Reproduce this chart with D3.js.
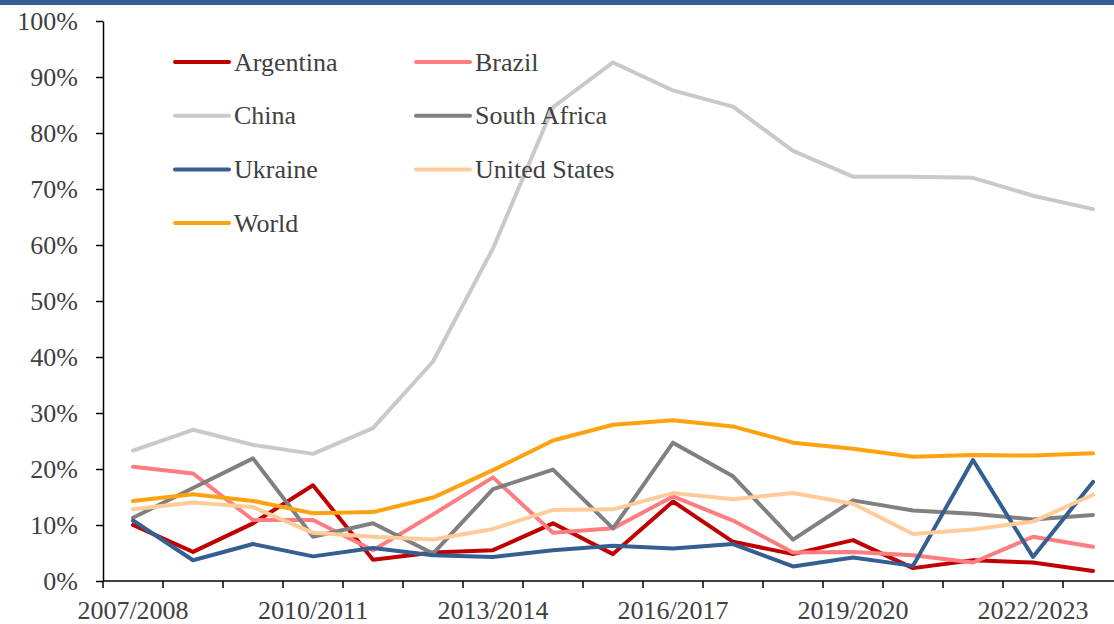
<!DOCTYPE html>
<html>
<head>
<meta charset="utf-8">
<script src="https://cdn.jsdelivr.net/npm/d3@7"></script>
<style>
  body { margin: 0; background: #fff; }
  svg { display: block; }
  text { font-family: "Liberation Serif", "Times New Roman", serif; fill: #404040; }
</style>
</head>
<body>
<svg id="chart" width="1114" height="624"></svg>
<script>
// marketing years on the x axis
var years = ["2007/2008", "2008/2009", "2009/2010", "2010/2011", "2011/2012", "2012/2013",
             "2013/2014", "2014/2015", "2015/2016", "2016/2017", "2017/2018", "2018/2019",
             "2019/2020", "2020/2021", "2021/2022", "2022/2023", "2023/2024"];

// shares in percent
var argentina = [10.0, 5.2, 10.3, 17.1, 3.8, 5.1, 5.5, 10.3, 4.8, 14.2, 7.0, 4.8, 7.3, 2.3, 3.7, 3.3, 1.8];
var brazil = [20.4, 19.2, 10.9, 10.9, 5.5, 11.9, 18.5, 8.6, 9.4, 15.1, 10.8, 5.1, 5.2, 4.6, 3.3, 7.9, 6.1];
var china = [23.3, 27.0, 24.3, 22.7, 27.3, 39.2, 59.4, 84.6, 92.6, 87.6, 84.7, 76.8, 72.2, 72.2, 72.0, 68.8, 66.4];
var southAfrica = [11.3, 16.6, 21.9, 7.9, 10.3, 4.9, 16.4, 19.9, 9.4, 24.7, 18.7, 7.4, 14.4, 12.6, 12.0, 11.0, 11.8];
var ukraine = [10.8, 3.7, 6.6, 4.4, 5.9, 4.6, 4.3, 5.5, 6.3, 5.8, 6.6, 2.6, 4.2, 2.7, 21.6, 4.3, 17.7];
var unitedStates = [12.8, 14.0, 13.2, 8.6, 7.9, 7.4, 9.3, 12.7, 12.8, 15.7, 14.6, 15.7, 13.8, 8.4, 9.2, 10.6, 15.4];
var world = [14.3, 15.5, 14.3, 12.1, 12.3, 14.9, 19.8, 25.1, 27.9, 28.7, 27.6, 24.7, 23.6, 22.2, 22.5, 22.4, 22.8];

var names = ["Argentina", "Brazil", "China", "South Africa", "Ukraine", "United States", "World"];
var colors = ["#c00000", "#ff7c80", "#c9c9c9", "#808080", "#335f91", "#ffcc99", "#ffa20f"];
var yTicks = [0, 10, 20, 30, 40, 50, 60, 70, 80, 90, 100];
var xLabels = ["2007/2008", "2010/2011", "2013/2014", "2016/2017", "2019/2020", "2022/2023"];

var series = [argentina, brazil, china, southAfrica, ukraine, unitedStates, world];

var svg = d3.select("#chart");

// blue strip along the top edge
svg.append("rect").attr("x", 0).attr("y", 0).attr("width", 1114).attr("height", 5).attr("fill", "#365f91");

var x = d3.scaleBand().domain(years).range([103, 1123]);
var y = d3.scaleLinear().domain([0, 100]).range([581, 21]);

// y axis
var yAxis = svg.append("g")
      .attr("transform", "translate(103,0)")
      .call(d3.axisLeft(y).tickValues(yTicks).tickSize(7).tickSizeOuter(0).tickPadding(18)
            .tickFormat(function(d) { return d + "%"; }));
yAxis.select(".domain").attr("stroke", "#000").attr("stroke-width", 1.5);
yAxis.selectAll(".tick line").attr("stroke", "#000").attr("stroke-width", 1.5);
yAxis.selectAll("text").attr("font-size", 26).attr("fill", "#404040")
      .style("font-family", "Liberation Serif");

// x axis: labels under every third year, tick marks at band edges
var xAxis = svg.append("g")
      .attr("transform", "translate(0,581)")
      .call(d3.axisBottom(x).tickValues(xLabels).tickSize(0).tickSizeOuter(0).tickPadding(20));
xAxis.select(".domain").remove();
xAxis.selectAll("text").attr("font-size", 26).attr("fill", "#404040")
      .style("font-family", "Liberation Serif");

svg.append("line")
      .attr("x1", 103).attr("x2", 1114).attr("y1", 581).attr("y2", 581)
      .attr("stroke", "#000").attr("stroke-width", 1.5);

svg.append("g").selectAll("line")
      .data(years)
      .enter()
      .append("line")
      .attr("x1", function(d) { return x(d); })
      .attr("x2", function(d) { return x(d); })
      .attr("y1", 581).attr("y2", 588)
      .attr("stroke", "#000").attr("stroke-width", 1.5);

// lines
var line = d3.line()
      .x(function(d, i) { return x(years[i]) + x.bandwidth() / 2; })
      .y(function(d) { return y(d); });

svg.append("g").selectAll("path")
      .data(series)
      .enter()
      .append("path")
      .attr("d", line)
      .attr("fill", "none")
      .attr("stroke", function(d, i) { return colors[i]; })
      .attr("stroke-width", 4)
      .attr("stroke-linejoin", "round")
      .attr("stroke-linecap", "round");

// legend, two columns
var legend = svg.append("g").selectAll("g")
      .data(names)
      .enter()
      .append("g")
      .attr("transform", function(d, i) {
            return "translate(" + (i % 2 === 0 ? 175 : 416) + "," + (62 + Math.floor(i / 2) * 53.7) + ")";
      });

legend.append("line")
      .attr("x1", 0).attr("x2", 54).attr("y1", 0).attr("y2", 0)
      .attr("stroke", function(d, i) { return colors[i]; })
      .attr("stroke-width", 4)
      .attr("stroke-linecap", "round");

legend.append("text")
      .attr("x", 59)
      .attr("y", 0)
      .attr("dy", "0.33em")
      .attr("font-size", 26)
      .text(function(d) { return d; });
</script>
</body>
</html>
